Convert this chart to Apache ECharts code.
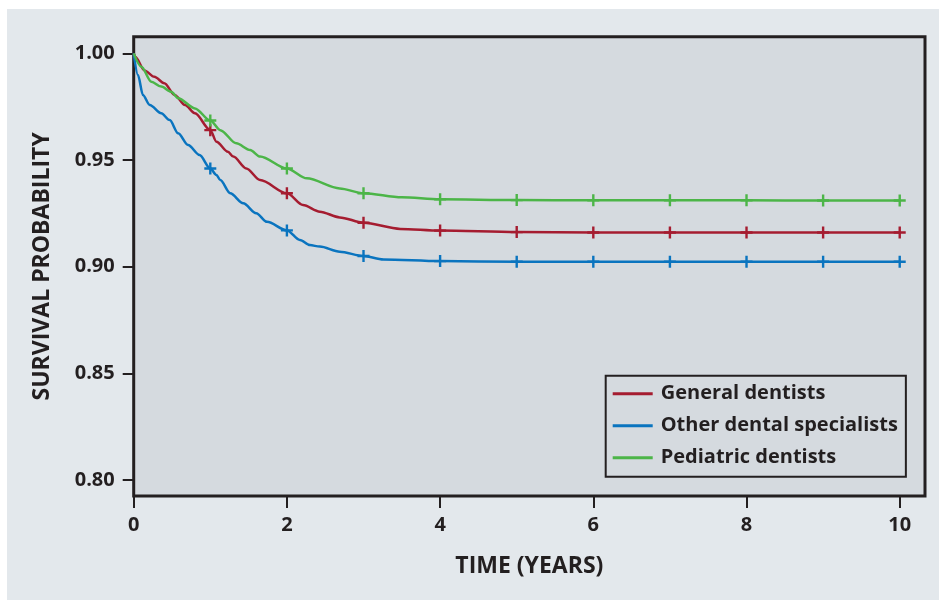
<!DOCTYPE html>
<html>
<head>
<meta charset="utf-8">
<script src="https://cdn.jsdelivr.net/npm/echarts@6/dist/echarts.min.js"></script>
<style>
  html, body { margin: 0; padding: 0; background: #fff; }
  #chart { width: 939px; height: 600px; }
</style>
</head>
<body>
<div id="chart"></div>
<script>
// Kaplan-Meier style curves
var seriesNames = ['General dentists', 'Other dental specialists', 'Pediatric dentists'];

var generalT = [0, 0.02, 0.14, 0.27, 0.40, 0.535, 0.67, 0.80, 1, 1.08, 1.23, 1.30, 1.47, 1.65, 2, 2.21, 2.43, 2.69, 3, 3.48, 4, 5, 6, 7, 8, 9, 10];
var generalV = [1.000, 0.9984, 0.992, 0.989, 0.986, 0.9805, 0.9758, 0.9719, 0.964, 0.9586, 0.9539, 0.9516, 0.946, 0.9406, 0.9344, 0.9289, 0.9258, 0.9231, 0.9206, 0.9177, 0.9169, 0.9162, 0.916, 0.916, 0.916, 0.916, 0.916];

var otherT = [0, 0.056, 0.12, 0.21, 0.36, 0.47, 0.58, 0.71, 0.86, 1, 1.08, 1.13, 1.26, 1.43, 1.60, 1.74, 2, 2.17, 2.30, 2.43, 2.69, 3, 3.26, 4, 5, 6, 7, 8, 9, 10];
var otherV = [1.000, 0.9898, 0.9805, 0.9758, 0.9719, 0.9687, 0.9625, 0.957, 0.9523, 0.946, 0.943, 0.9406, 0.9344, 0.9297, 0.925, 0.921, 0.917, 0.9125, 0.9101, 0.9094, 0.907, 0.905, 0.9034, 0.9026, 0.9023, 0.9023, 0.9023, 0.9023, 0.9023, 0.9023];

var pediatricT = [0, 0.10, 0.23, 0.36, 0.49, 0.58, 0.80, 1, 1.13, 1.34, 1.52, 1.65, 2, 2.26, 2.69, 3, 3.5, 4, 5, 6, 7, 8, 9, 10];
var pediatricV = [1.000, 0.9937, 0.9867, 0.9844, 0.982, 0.979, 0.9742, 0.9685, 0.964, 0.9578, 0.9547, 0.9516, 0.946, 0.9414, 0.9367, 0.9344, 0.9325, 0.9316, 0.9312, 0.9311, 0.9311, 0.9311, 0.931, 0.931, 0.931];

var censorYears = [1, 2, 3, 4, 5, 6, 7, 8, 9, 10];
var xTicks = [0, 2, 4, 6, 8, 10];
var yTicks = [0.80, 0.85, 0.90, 0.95, 1.00];

var ink = '#231f20';
var fontName = 'Open Sans';
var plusPath = 'path://M4,0H6V4H10V6H6V10H4V6H0V4H4Z';

function buildData(ts, vs) {
  return ts.map(function (t, i) {
    var item = { value: [t, vs[i]] };
    if (censorYears.indexOf(t) >= 0) {
      item.symbol = plusPath;
      item.symbolSize = 12;
    }
    return item;
  });
}

function makeSeries(name, ts, vs, color) {
  return {
    name: name,
    type: 'line',
    data: buildData(ts, vs),
    smooth: 0.3,
    smoothMonotone: 'x',
    symbol: 'none',
    showSymbol: true,
    lineStyle: { color: color, width: 2.5 },
    itemStyle: { color: color },
    emphasis: { disabled: true },
    animation: false
  };
}

var dom = document.getElementById('chart');
var myChart = echarts.init(dom);
var option = {
  backgroundColor: '#ffffff',
  animation: false,
  graphic: [
    {
      type: 'rect',
      left: 7, top: 9, z: -10, silent: true,
      shape: { width: 932, height: 591 },
      style: { fill: '#e3e8ec' }
    }
  ],
  grid: {
    left: 133.7,
    right: 14,
    top: 36.7,
    bottom: 104,
    show: true,
    backgroundColor: '#d5dadf',
    borderColor: ink,
    borderWidth: 3
  },
  legend: {
    data: seriesNames,
    orient: 'vertical',
    left: 605.7,
    top: 375.7,
    padding: [8, 8, 9, 7],
    itemGap: 12,
    itemWidth: 40,
    itemHeight: 3,
    icon: 'rect',
    borderColor: ink,
    borderWidth: 2,
    textStyle: {
      color: ink,
      fontFamily: fontName,
      fontWeight: 'bold',
      fontSize: 20,
      lineHeight: 20,
      padding: [0, 0, 0, 3]
    }
  },
  xAxis: {
    type: 'value',
    min: 0,
    max: 10.33,
    name: 'TIME (YEARS)',
    nameLocation: 'middle',
    nameGap: 59,
    nameTextStyle: { color: ink, fontFamily: fontName, fontWeight: 'bold', fontSize: 23 },
    axisLine: { show: false },
    axisTick: { show: true, length: 12, customValues: xTicks, lineStyle: { color: ink, width: 2 } },
    axisLabel: { customValues: xTicks, margin: 19, color: ink, fontFamily: fontName, fontWeight: 'bold', fontSize: 20 },
    splitLine: { show: false }
  },
  yAxis: {
    type: 'value',
    min: 0.7925,
    max: 1.0078,
    name: 'SURVIVAL PROBABILITY',
    nameLocation: 'middle',
    nameGap: 80,
    nameTextStyle: { color: ink, fontFamily: fontName, fontWeight: 'bold', fontSize: 23 },
    axisLine: { show: false },
    axisTick: { show: true, length: 11, customValues: yTicks, lineStyle: { color: ink, width: 2 } },
    axisLabel: {
      customValues: yTicks, margin: 19, color: ink, fontFamily: fontName, fontWeight: 'bold', fontSize: 20,
      formatter: function (v) { return v.toFixed(2); }
    },
    splitLine: { show: false }
  },
  series: [
    makeSeries(seriesNames[0], generalT, generalV, '#a51c30'),
    makeSeries(seriesNames[1], otherT, otherV, '#0a74bf'),
    makeSeries(seriesNames[2], pediatricT, pediatricV, '#4cb548')
  ]
};
myChart.setOption(option, true);
</script>
</body>
</html>
